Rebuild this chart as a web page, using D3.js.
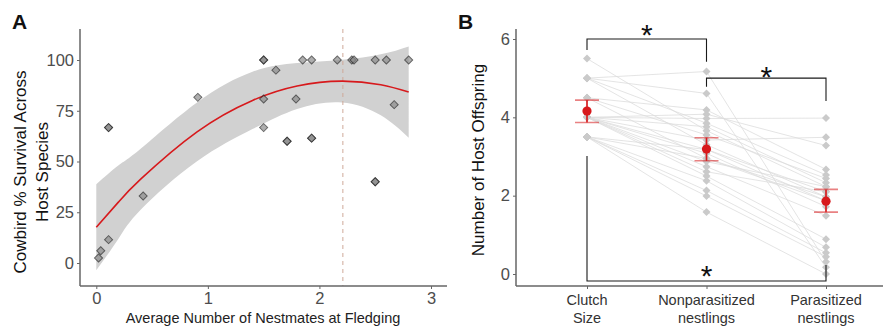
<!DOCTYPE html>
<html>
<head>
<meta charset="utf-8">
<script src="https://cdn.jsdelivr.net/npm/d3@7"></script>
<style>
  body { margin: 0; background: #fff; }
  svg text { font-family: "Liberation Sans", Arial, sans-serif; }
</style>
</head>
<body>
<div id="chart"></div>
<script>
// ---- Panel A data ----
const nestmates = [0.02, 0.04, 0.11, 0.11, 0.11, 0.42, 0.91, 1.5, 1.5, 1.61, 1.85, 1.93, 2.16, 2.29, 2.31, 2.5, 2.6, 2.8,
  1.5, 1.79, 2.67, 1.5, 1.71, 1.71, 1.93, 1.93, 2.5, 2.5];
const survival = [2.5, 6, 66.7, 66.7, 11.5, 33, 81.6, 100, 100, 95, 100, 100, 100, 100, 100, 100, 100, 100,
  80.8, 80.8, 78, 66.7, 60, 60, 61.5, 61.5, 40, 40];

// fitted curve + confidence band
const fitX = [0, 0.2, 0.4, 0.9, 1.4, 1.8, 2.2, 2.55, 2.8];
const fitY = [17.6, 30.1, 41.4, 64.5, 80.1, 87.2, 89.6, 87.8, 84.2];
const bandLow = [-3.6, 12.1, 26.4, 50, 66, 75.9, 79.1, 72.8, 61.7];
const bandHigh = [38.8, 48.1, 56.4, 79, 94.2, 98.5, 100.1, 102.8, 106.7];
const fledgeLine = 2.21;

// ---- Panel B data ----
const stages = ["Clutch\nSize", "Nonparasitized\nnestlings", "Parasitized\nnestlings"];
const clutchSize = [5.5, 5, 5, 5, 5, 4.5, 4.5, 4.5, 4, 4, 4, 4, 4, 4, 4, 4, 4, 4, 3.5, 3.5, 3.5, 3.5, 3.5, 3.5];
const nonparasitized = [3.66, 5.17, 4.61, 3.85, 3.30, 4.19, 3.55, 2.95, 4.08, 3.97, 3.76, 3.42, 3.18, 3.08, 2.87, 2.74,
  2.61, 2.50, 3.18, 2.95, 2.38, 2.13, 1.99, 1.58];
const parasitized = [2.23, 0.31, 0.17, 2.53, 1.97, 2.67, 2.44, 1.87, 3.28, 3.98, 2.33, 3.49, 2.10, 1.72, 2.23, 1.49,
  2.10, 0.89, 1.87, 1.97, 0.68, 0.54, 0.44, 0.0];
const stageMean = [4.16, 3.19, 1.86];
const stageLow = [3.87, 2.89, 1.58];
const stageHigh = [4.44, 3.48, 2.16];

// significance brackets
const brackets = [
  { from: 0, to: 1, y: 6.0, yl: 5.72, yr: 5.42, star: 6.28 },
  { from: 1, to: 2, y: 5.0, yl: 4.78, yr: 4.42, star: 5.2 },
  { from: 0, to: 2, y: -0.18, yl: 3.01, yr: 0.23, star: 0.12 }
];

const W = 883, H = 331;
const svg = d3.select("#chart").append("svg").attr("width", W).attr("height", H);

const axisGrey = "#666";
const tickText = "#4d4d4d";
const diamond = d3.symbol(d3.symbolSquare, 32);

// ================= Panel A =================
const xA = d3.scaleLinear().domain([0, 3]).range([96.3, 431]);
const yA = d3.scaleLinear().domain([0, 100]).range([263, 60]);
const gA = svg.append("g");

const band = d3.area()
  .x((d, i) => xA(fitX[i]))
  .y0((d, i) => yA(bandLow[i]))
  .y1((d, i) => yA(bandHigh[i]))
  .curve(d3.curveNatural);
gA.append("path").datum(fitX).attr("d", band).attr("fill", "#d1d1d1");

gA.append("line")
  .attr("x1", xA(fledgeLine)).attr("x2", xA(fledgeLine))
  .attr("y1", 29).attr("y2", 286)
  .attr("stroke", "#cfa99a").attr("stroke-width", 1).attr("stroke-dasharray", "4,4");

const fit = d3.line()
  .x((d, i) => xA(fitX[i]))
  .y((d, i) => yA(fitY[i]))
  .curve(d3.curveNatural);
gA.append("path").datum(fitX).attr("d", fit)
  .attr("fill", "none").attr("stroke", "#d7191c").attr("stroke-width", 1.6);

gA.selectAll(".ptA")
  .data(nestmates.map((x, i) => [x, survival[i]]))
  .join("path")
  .attr("class", "ptA")
  .attr("d", diamond)
  .attr("transform", d => `translate(${xA(d[0])},${yA(d[1])}) rotate(45)`)
  .attr("fill", "#888").attr("stroke", "#222").attr("stroke-width", 1)
  .attr("opacity", 0.68);

// axes A
gA.append("line").attr("x1", 80).attr("x2", 80).attr("y1", 29).attr("y2", 286)
  .attr("stroke", axisGrey).attr("stroke-width", 1.5);
gA.append("line").attr("x1", 80).attr("x2", 447).attr("y1", 286).attr("y2", 286)
  .attr("stroke", axisGrey).attr("stroke-width", 1.5);

const yAxisA = gA.append("g").attr("transform", "translate(80,0)")
  .call(d3.axisLeft(yA).tickValues([0, 25, 50, 75, 100]).tickFormat(d3.format("d")).tickSize(3).tickPadding(3));
const xAxisA = gA.append("g").attr("transform", "translate(0,286)")
  .call(d3.axisBottom(xA).tickValues([0, 1, 2, 3]).tickFormat(d3.format("d")).tickSize(3).tickPadding(3));
[yAxisA, xAxisA].forEach(ax => {
  ax.select(".domain").remove();
  ax.selectAll("line").attr("stroke", axisGrey);
  ax.selectAll("text").attr("fill", tickText).style("font-size", "16.5px");
});

gA.append("text").attr("x", 263).attr("y", 323).attr("text-anchor", "middle")
  .style("font-size", "14.5px").attr("fill", "#222")
  .text("Average Number of Nestmates at Fledging");

const ytA = gA.append("text").attr("transform", "translate(0,172) rotate(-90)")
  .attr("text-anchor", "middle").style("font-size", "17px").attr("fill", "#111");
ytA.append("tspan").attr("x", 0).attr("y", 26).text("Cowbird % Survival Across");
ytA.append("tspan").attr("x", 0).attr("y", 48).text("Host Species");

svg.append("text").attr("x", 12).attr("y", 29).style("font-size", "21px").style("font-weight", "bold")
  .attr("fill", "#111").text("A");

// ================= Panel B =================
const xB = d3.scalePoint().domain(stages).range([587, 826]);
const yB = d3.scaleLinear().domain([0, 6]).range([274, 39]);
const gB = svg.append("g");

const species = clutchSize.map((c, i) => [c, nonparasitized[i], parasitized[i]]);
const pathB = d3.line().x((d, i) => xB(stages[i])).y(d => yB(d));
gB.selectAll(".spLine").data(species).join("path")
  .attr("class", "spLine").attr("d", pathB)
  .attr("fill", "none").attr("stroke", "#dcdcdc").attr("stroke-width", 0.9).attr("opacity", 0.85);

const ptsB = [];
species.forEach(s => s.forEach((v, i) => ptsB.push([i, v])));
gB.selectAll(".ptB").data(ptsB).join("path")
  .attr("class", "ptB").attr("d", diamond)
  .attr("transform", d => `translate(${xB(stages[d[0]])},${yB(d[1])}) rotate(45)`)
  .attr("fill", "#cacaca");

// brackets
const br = gB.selectAll(".br").data(brackets).join("g").attr("class", "br");
br.append("path")
  .attr("d", d => {
    const x1 = xB(stages[d.from]), x2 = xB(stages[d.to]);
    return `M${x1},${yB(d.yl)}V${yB(d.y)}H${x2}V${yB(d.yr)}`;
  })
  .attr("fill", "none").attr("stroke", "#1a1a1a").attr("stroke-width", 1.1);
br.append("text")
  .attr("x", d => d.from === 0 && d.to === 2 ? xB(stages[1]) : (xB(stages[d.from]) + xB(stages[d.to])) / 2)
  .attr("y", d => yB(d.star) + 17)
  .attr("text-anchor", "middle").style("font-size", "30px").attr("fill", "#111")
  .text("*");

// mean + error bars
const summ = stages.map((s, i) => ({ s, m: stageMean[i], lo: stageLow[i], hi: stageHigh[i] }));
const eb = gB.selectAll(".eb").data(summ).join("g").attr("class", "eb");
eb.append("path")
  .attr("d", d => {
    const x = xB(d.s);
    return `M${x - 12},${yB(d.hi)}H${x + 12}M${x},${yB(d.hi)}V${yB(d.lo)}M${x - 12},${yB(d.lo)}H${x + 12}`;
  })
  .attr("fill", "none").attr("stroke", "#d7191c").attr("stroke-width", 1.6).attr("opacity", 0.55);
eb.append("line")
  .attr("x1", d => xB(d.s)).attr("x2", d => xB(d.s))
  .attr("y1", d => yB(d.hi)).attr("y2", d => yB(d.lo))
  .attr("stroke", "#d7191c").attr("stroke-width", 1.4);
eb.append("circle")
  .attr("cx", d => xB(d.s)).attr("cy", d => yB(d.m)).attr("r", 4.6)
  .attr("fill", "#d7191c");

// axes B
gB.append("line").attr("x1", 516).attr("x2", 516).attr("y1", 29).attr("y2", 286)
  .attr("stroke", axisGrey).attr("stroke-width", 1.5);
gB.append("line").attr("x1", 516).attr("x2", 883).attr("y1", 286).attr("y2", 286)
  .attr("stroke", axisGrey).attr("stroke-width", 1.5);

const yAxisB = gB.append("g").attr("transform", "translate(516,0)")
  .call(d3.axisLeft(yB).tickValues([0, 2, 4, 6]).tickFormat(d3.format("d")).tickSize(3).tickPadding(3));
yAxisB.select(".domain").remove();
yAxisB.selectAll("line").attr("stroke", axisGrey);
yAxisB.selectAll("text").attr("fill", tickText).style("font-size", "16.5px");

const xAxisB = gB.append("g").attr("transform", "translate(0,286)")
  .call(d3.axisBottom(xB).tickSize(3).tickFormat(""));
xAxisB.select(".domain").remove();
xAxisB.selectAll("line").attr("stroke", axisGrey);

gB.selectAll(".catLab").data(stages).join("text")
  .attr("class", "catLab")
  .attr("text-anchor", "middle").style("font-size", "14.5px").attr("fill", "#333")
  .each(function (d) {
    const t = d3.select(this);
    d.split("\n").forEach((part, k) => {
      t.append("tspan").attr("x", xB(d)).attr("y", 305 + k * 18).text(part);
    });
  });

gB.append("text").attr("transform", "translate(484,160) rotate(-90)")
  .attr("text-anchor", "middle").style("font-size", "17px").attr("fill", "#111")
  .text("Number of Host Offspring");

svg.append("text").attr("x", 458).attr("y", 29).style("font-size", "21px").style("font-weight", "bold")
  .attr("fill", "#111").text("B");
</script>
</body>
</html>
